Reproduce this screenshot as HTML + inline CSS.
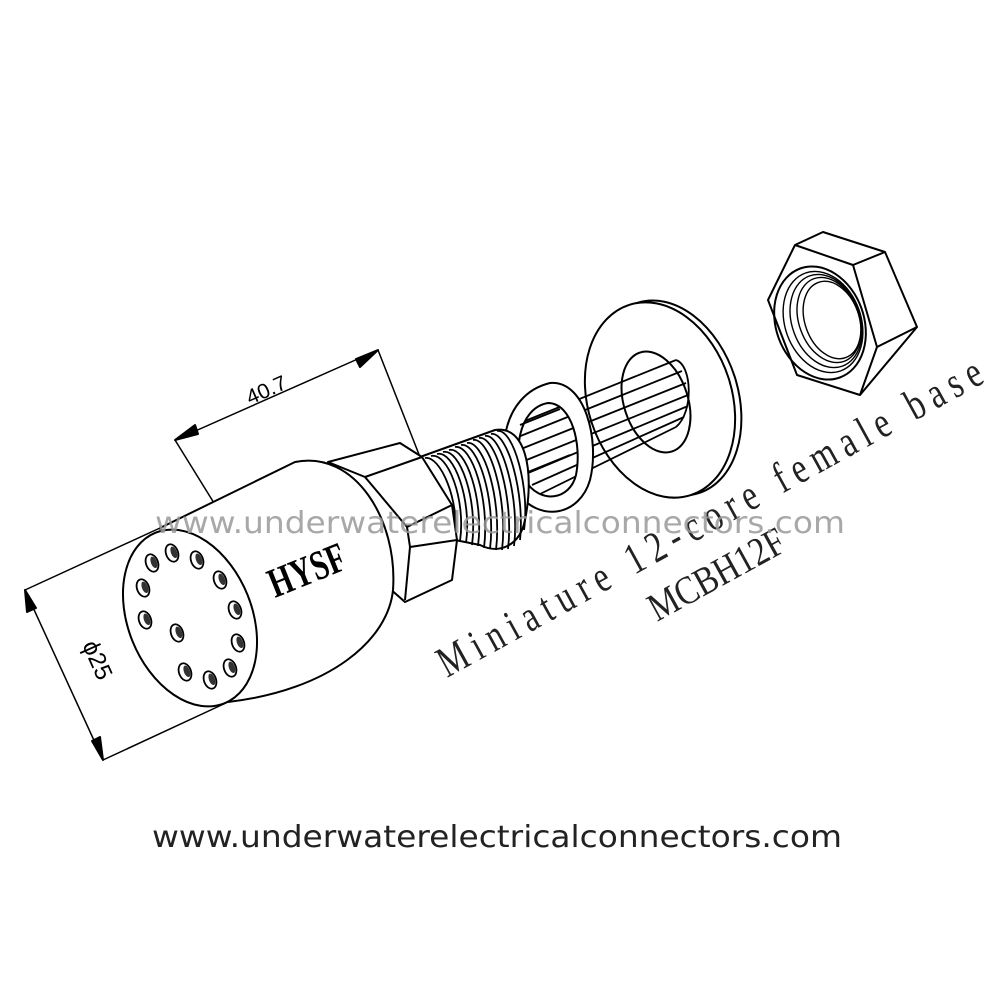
<!DOCTYPE html>
<html><head><meta charset="utf-8"><style>
html,body{margin:0;padding:0;background:#fff;}
svg{display:block;}
</style></head><body>
<svg width="1000" height="1000" viewBox="0 0 1000 1000" xmlns="http://www.w3.org/2000/svg">
<defs>
  <g id="h" fill="#fff" stroke="#000" stroke-width="1.8"><ellipse cx="0" cy="0" rx="6" ry="9" transform="rotate(-20)"/><ellipse cx="2" cy="0" rx="3" ry="6" transform="rotate(-20)" fill="#333" stroke="none"/></g>
</defs>
<g fill="none" stroke="#000" stroke-width="2" stroke-linejoin="round">
  <line x1="175" y1="440" x2="378" y2="350" stroke-width="1.5"/>
  <line x1="175" y1="440" x2="240" y2="545" stroke-width="1.5"/>
  <line x1="378" y1="350" x2="420" y2="457" stroke-width="1.5"/>
  <polygon points="175,440 195,425 198,434" fill="#000"/>
  <polygon points="378,350 356,359 360,367" fill="#000"/>
  <line x1="25" y1="590" x2="103" y2="760" stroke-width="1.5"/>
  <line x1="25" y1="590" x2="160" y2="528" stroke-width="1.5"/>
  <line x1="103" y1="760" x2="228" y2="702" stroke-width="1.5"/>
  <polygon points="25,590 27,612 36,608" fill="#000"/>
  <polygon points="103,760 92,741 100,737" fill="#000"/>

  <ellipse cx="668" cy="398" rx="70" ry="100" transform="rotate(-18 668 398)" fill="#fff"/>
  <ellipse cx="660" cy="400" rx="72" ry="100" transform="rotate(-18 660 400)" fill="#fff"/>
  <ellipse cx="656" cy="402" rx="32" ry="52" transform="rotate(-18 656 402)"/>
  <g stroke-width="1.8">
    <path d="M 515 425 L 676 360 M 518 437 L 682 371 M 521 449 L 686 383 M 524 461 L 688 395 M 528 473 L 688 406 M 532 485 L 684 417 M 536 496 L 676 427" fill="none"/>
    <path d="M 676 360 C 692 365, 694 412, 676 427"/>
  </g>
  <path d="M 550 383 C 585 380, 600 440, 590 480 C 580 515, 540 525, 515 490 C 495 460, 500 395, 550 383 Z M 548 403 C 572 403, 582 445, 576 475 C 570 500, 540 505, 525 480 C 512 455, 518 408, 548 403 Z" fill="#fff" fill-rule="evenodd"/>
  <path d="M 520 425 L 560 409 M 528 472 L 570 455" stroke-width="1.8"/>
  <path d="M 420 457 L 495 430 C 525 425, 535 470, 525 520 C 520 545, 500 555, 480 545 L 455 540" fill="#fff"/>
  <g stroke-width="1.8">
    <path d="M 425 458 C 440 455, 460 500, 455 540"/>
    <path d="M 431 456 C 448 452, 466 500, 460 541"/>
    <path d="M 437 454 C 454 450, 472 500, 466 543"/>
    <path d="M 443 452 C 460 448, 478 500, 472 545"/>
    <path d="M 449 450 C 466 446, 484 500, 478 546"/>
    <path d="M 455 447 C 472 444, 490 500, 484 548"/>
    <path d="M 461 445 C 478 442, 496 500, 490 549"/>
    <path d="M 467 443 C 484 440, 502 500, 496 550"/>
    <path d="M 473 440 C 490 437, 508 500, 502 550"/>
    <path d="M 479 438 C 496 435, 514 500, 508 549"/>
    <path d="M 485 436 C 502 433, 520 500, 514 546"/>
    <path d="M 491 434 C 508 431, 525 495, 520 540"/>
    <path d="M 497 431 C 514 428, 530 490, 524 530"/>
  </g>
  <polygon points="328,462 400,443 422,457 452,505 457,540 452,580 405,602 380,580 360,520" fill="#fff"/>
  <path d="M 328 462 L 365 477 L 422 457 M 365 477 L 407 527 L 452 505 M 407 527 L 410 547 L 457 540 M 410 547 L 405 600"/>
  <path d="M 160 528 L 295 462 C 355 450, 398 520, 393 590 C 388 640, 330 690, 228 702 Z" fill="#fff"/>
  <ellipse cx="190" cy="618" rx="62" ry="92" transform="rotate(-22 190 618)" fill="#fff"/>
  <polygon points="795,245 823,232 885,252 917,327 860,395 797,375 768,300" fill="#fff"/>
  <path d="M 795 245 L 853 265 L 885 252 M 853 265 L 877 347 L 917 327 M 877 347 L 860 395"/>
  <ellipse cx="820" cy="323" rx="44" ry="58" transform="rotate(-20 820 323)"/>
  <g stroke-width="1.4">
    <ellipse cx="823" cy="322" rx="38" ry="52" transform="rotate(-20 823 322)"/>
    <ellipse cx="826" cy="321" rx="34" ry="48" transform="rotate(-20 826 321)"/>
    <ellipse cx="829" cy="320" rx="30" ry="44" transform="rotate(-20 829 320)"/>
    <ellipse cx="832" cy="320" rx="27" ry="40" transform="rotate(-20 832 320)"/>
  </g>
</g>
<use href="#h" x="152" y="563"/><use href="#h" x="172" y="553"/><use href="#h" x="197" y="560"/>
<use href="#h" x="220" y="580"/><use href="#h" x="235" y="610"/><use href="#h" x="238" y="643"/>
<use href="#h" x="230" y="668"/><use href="#h" x="210" y="680"/><use href="#h" x="185" y="672"/>
<use href="#h" x="145" y="620"/><use href="#h" x="143" y="588"/><use href="#h" x="177" y="633"/>
<text x="0" y="0" transform="translate(250,405) rotate(-24)" font-family="Liberation Sans, sans-serif" font-size="21" fill="#000" textLength="42" lengthAdjust="spacingAndGlyphs">40.7</text>
<text x="0" y="0" transform="translate(82,645) rotate(66)" font-family="Liberation Sans, sans-serif" font-size="24" fill="#000">ϕ25</text>
<text x="0" y="0" transform="translate(275,598) rotate(-22)" font-family="Liberation Serif, serif" font-weight="bold" font-size="42" fill="#000" textLength="80" lengthAdjust="spacingAndGlyphs">HYSF</text>
<text x="0" y="0" transform="translate(447,678) rotate(-28.8) scale(0.75,1)" font-family="Liberation Serif, serif" font-size="44" fill="#222" textLength="820" lengthAdjust="spacing">Miniature 12-core female base</text>
<text x="0" y="0" transform="translate(657,622) rotate(-28.8)" font-family="Liberation Serif, serif" font-size="40" fill="#222" textLength="150" lengthAdjust="spacingAndGlyphs">MCBH12F</text>
<text x="155" y="533" font-family="DejaVu Sans, sans-serif" font-size="30" fill="#999" fill-opacity="0.85" textLength="690" lengthAdjust="spacingAndGlyphs">www.underwaterelectricalconnectors.com</text>
<text x="152" y="847" font-family="DejaVu Sans, sans-serif" font-size="30" fill="#222" textLength="690" lengthAdjust="spacingAndGlyphs">www.underwaterelectricalconnectors.com</text>
</svg>
</body></html>
